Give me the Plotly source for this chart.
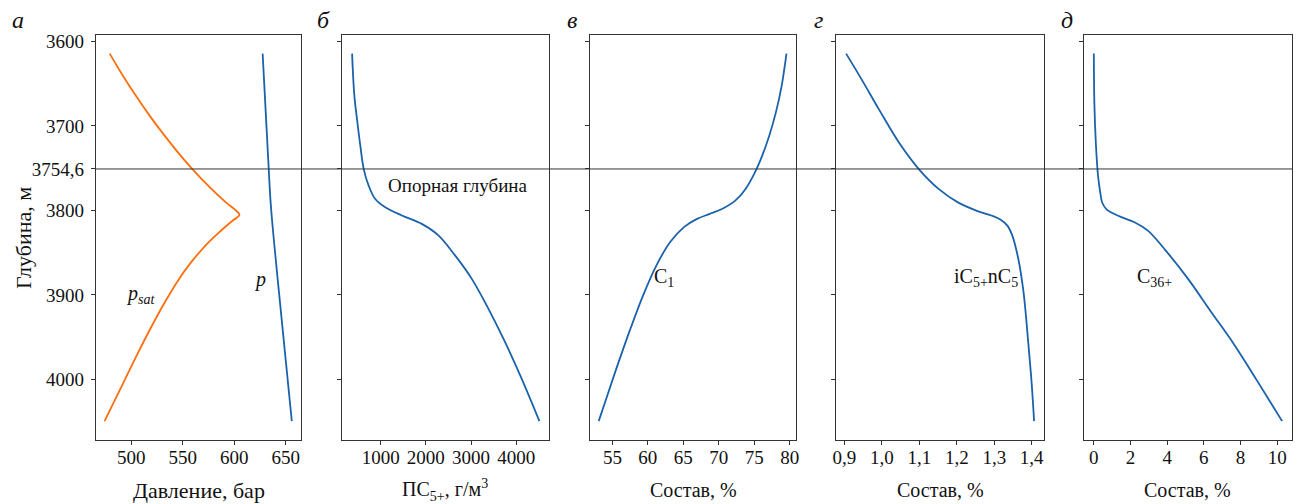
import plotly.graph_objects as go

# ---------------- data ----------------
# Panel а: pressure (bar) vs depth (m)
p_depth = [3614.4, 3700.0, 3751.0, 3790.0, 3830.0, 3900.0, 3975.0, 4049.5]
p_vals = [627.5, 631.2, 633.4, 635.2, 638.0, 643.6, 649.7, 655.8]

psat_depth = [3614.4, 3641.8, 3665.3, 3688.7, 3708.3, 3728.0, 3750.6, 3772.9,
              3790.5, 3800.0, 3805.5, 3812.0, 3825.7, 3841.3, 3861.0, 3880.5,
              3907.8, 3939.2, 3970.4, 4005.6, 4029.0, 4049.5]
psat_vals = [479.1, 492.5, 505.0, 518.3, 530.3, 543.1, 558.9, 576.3,
             591.8, 601.5, 605.0, 598.5, 585.5, 572.2, 558.4, 546.7,
             533.0, 518.9, 505.8, 491.7, 482.3, 474.1]

# Panel б: ПС5+ (g/m3)
pc_depth = [3614.4, 3634.0, 3665.0, 3692.7, 3724.0, 3751.4, 3771.0, 3786.6,
            3796.4, 3806.0, 3816.0, 3829.6, 3853.0, 3880.5, 3915.7, 3954.8,
            3998.0, 4049.5]
pc_vals = [368, 384, 419, 478, 551, 626, 736, 881,
           1101, 1469, 1909, 2277, 2642, 3010, 3377, 3743,
           4110, 4513]

# Panel в: C1 (%)
c1_depth = [3614.4, 3653.5, 3684.9, 3712.2, 3739.7, 3755.3, 3774.9, 3788.5,
            3798.4, 3804.2, 3810.1, 3819.8, 3837.4, 3864.8, 3900.0, 3943.0,
            3990.0, 4025.0, 4049.5]
c1_vals = [79.54, 78.84, 78.02, 77.09, 75.91, 75.08, 73.75, 72.32,
           70.44, 68.70, 66.93, 65.09, 63.15, 61.23, 59.36, 57.42,
           55.45, 54.05, 53.07]

# Panel г: iC5+nC5 (%)
c5_depth = [3614.4, 3645.8, 3681.0, 3720.0, 3751.4, 3774.9, 3790.5, 3800.2,
            3806.1, 3811.0, 3818.0, 3829.6, 3857.0, 3896.0, 3958.7, 4005.6, 4049.5]
c5_vals = [0.9045, 0.9470, 0.9929, 1.0460, 1.0991, 1.1522, 1.2030, 1.2520,
           1.2920, 1.3170, 1.3350, 1.3480, 1.3640, 1.3779, 1.3912, 1.4000, 1.4064]

# Panel д: C36+ (%)
c36_depth = [3614.4, 3673.0, 3720.0, 3759.0, 3780.0, 3791.0, 3798.4, 3802.5,
             3808.0, 3814.0, 3824.0, 3847.0, 3880.5, 3919.6, 3958.7, 4001.8, 4049.5]
c36_vals = [0.00, 0.03, 0.11, 0.23, 0.36, 0.46, 0.68, 0.95,
            1.50, 2.22, 2.95, 3.90, 5.12, 6.38, 7.65, 8.91, 10.27]

# Axis ticks and labels
y_tickvals = [3600, 3700, 3751, 3800, 3900, 4000]
y_ticktext = ["3600", "3700", "3754,6", "3800", "3900", "4000"]
ref_depth = 3751

xa_tickvals = [500, 550, 600, 650]
xa_ticktext = ["500", "550", "600", "650"]
xb_tickvals = [1000, 2000, 3000, 4000]
xb_ticktext = ["1000", "2000", "3000", "4000"]
xc_tickvals = [55, 60, 65, 70, 75, 80]
xc_ticktext = ["55", "60", "65", "70", "75", "80"]
xd_tickvals = [0.9, 1.0, 1.1, 1.2, 1.3, 1.4]
xd_ticktext = ["0,9", "1,0", "1,1", "1,2", "1,3", "1,4"]
xe_tickvals = [0, 2, 4, 6, 8, 10]
xe_ticktext = ["0", "2", "4", "6", "8", "10"]

panel_letters = ["а", "б", "в", "г", "д"]
x_titles = ["Давление, бар", "ПС<sub>5+</sub>, г/м<sup>3</sup>",
            "Состав, %", "Состав, %", "Состав, %"]
x_title_sizes = [22, 20, 20, 20, 20]
y_title = "Глубина, м"

# ---------------- styling ----------------
W, H = 1301, 504
BLUE = "#1a62ab"
ORANGE = "#ff6d0c"
AX = "#333333"
FONT = "Liberation Serif"
TXT = "#111111"
TICK_SIZE = 19

panels_px = [(92.3, 299.0), (340.0, 547.7), (589.0, 796.7), (836.7, 1045.7), (1085.7, 1295.0)]
top_px, bot_px = 31.0, 439.3
x_ranges = [[465.6, 665.1], [148, 4720], [51.82, 80.94], [0.878, 1.433], [-0.543, 10.81]]
y_range = [4071.6, 3592.1]

fig = go.Figure()

def add_line(x, y, idx, color):
    fig.add_trace(go.Scatter(
        x=x, y=y, mode="lines",
        line=dict(color=color, width=1.8, shape="spline", smoothing=1.0),
        xaxis="x" if idx == 1 else f"x{idx}",
        yaxis="y" if idx == 1 else f"y{idx}",
        hoverinfo="skip", showlegend=False))

add_line(psat_vals, psat_depth, 1, ORANGE)
add_line(p_vals, p_depth, 1, BLUE)
add_line(pc_vals, pc_depth, 2, BLUE)
add_line(c1_vals, c1_depth, 3, BLUE)
add_line(c5_vals, c5_depth, 4, BLUE)
add_line(c36_vals, c36_depth, 5, BLUE)

xticks = [(xa_tickvals, xa_ticktext), (xb_tickvals, xb_ticktext),
          (xc_tickvals, xc_ticktext), (xd_tickvals, xd_ticktext),
          (xe_tickvals, xe_ticktext)]

ydom = [1 - bot_px / H, 1 - top_px / H]
layout = dict(
    width=W, height=H,
    margin=dict(l=0, r=0, t=0, b=0),
    paper_bgcolor="white", plot_bgcolor="white",
    showlegend=False,
    font=dict(family=FONT, size=TICK_SIZE, color=TXT),
)

for i, ((l, r), rng, (tv, tt)) in enumerate(zip(panels_px, x_ranges, xticks), start=1):
    xs = "xaxis" if i == 1 else f"xaxis{i}"
    ys = "yaxis" if i == 1 else f"yaxis{i}"
    layout[xs] = dict(
        domain=[l / W, r / W], range=rng, anchor="y" if i == 1 else f"y{i}",
        tickvals=tv, ticktext=tt, ticks="outside", ticklen=4, tickwidth=1,
        tickcolor=AX, showline=True, linecolor=AX, linewidth=1, mirror=True,
        showgrid=False, zeroline=False, ticklabelstandoff=-4,
        tickfont=dict(family=FONT, size=TICK_SIZE, color=TXT))
    layout[ys] = dict(
        domain=ydom, range=y_range, anchor="x" if i == 1 else f"x{i}",
        tickvals=y_tickvals, ticktext=y_ticktext, ticks="outside", ticklen=4,
        tickwidth=1, tickcolor=AX, showline=True, linecolor=AX, linewidth=1,
        mirror=True, showgrid=False, zeroline=False,
        showticklabels=(i == 1), ticklabelstandoff=3,
        tickfont=dict(family=FONT, size=TICK_SIZE, color=TXT))

fig.update_layout(**layout)

# reference-depth line across all panels
fig.add_shape(type="line", xref="paper", yref="y",
              x0=panels_px[0][0] / W, x1=panels_px[-1][1] / W,
              y0=ref_depth, y1=ref_depth,
              line=dict(color=AX, width=1))

ann = []
letter_x = [14, 321, 571, 819, 1069]
for lx, letter in zip(letter_x, panel_letters):
    ann.append(dict(text=f"<i>{letter}</i>", xref="paper", yref="paper",
                    x=lx / W, y=1 - 16 / H, xanchor="center", yanchor="middle",
                    showarrow=False, font=dict(family=FONT, size=24, color=TXT)))
for (l, r), t, s in zip(panels_px, x_titles, x_title_sizes):
    ann.append(dict(text=t, xref="paper", yref="paper",
                    x=(l + r) / 2 / W, y=1 - 490 / H, xanchor="center", yanchor="middle",
                    showarrow=False, font=dict(family=FONT, size=s, color=TXT)))
ann.append(dict(text=y_title, xref="paper", yref="paper", x=19 / W, y=1 - 236 / H,
                xanchor="center", yanchor="middle", textangle=-90, showarrow=False,
                font=dict(family=FONT, size=22, color=TXT)))

# in-plot labels
ann.append(dict(text="<i>p<sub>sat</sub></i>", xref="x", yref="y", x=509, y=3900,
                showarrow=False, font=dict(family=FONT, size=20, color=TXT)))
ann.append(dict(text="<i>p</i>", xref="x", yref="y", x=624.8, y=3882,
                showarrow=False, font=dict(family=FONT, size=20, color=TXT)))
ann.append(dict(text="Опорная глубина", xref="x2", yref="y2", x=2717, y=3770,
                showarrow=False, font=dict(family=FONT, size=19, color=TXT)))
ann.append(dict(text="C<sub>1</sub>", xref="x3", yref="y3", x=62.3, y=3880,
                showarrow=False, font=dict(family=FONT, size=20, color=TXT)))
ann.append(dict(text="iC<sub>5+</sub>nC<sub>5</sub>", xref="x4", yref="y4", x=1.278, y=3880,
                showarrow=False, font=dict(family=FONT, size=20, color=TXT)))
ann.append(dict(text="C<sub>36+</sub>", xref="x5", yref="y5", x=3.33, y=3880,
                showarrow=False, font=dict(family=FONT, size=20, color=TXT)))

fig.update_layout(annotations=ann)

fig.write_html("out.html", config={"displayModeBar": False},
               post_script="document.body.style.margin='0';document.body.style.overflow='hidden';")
